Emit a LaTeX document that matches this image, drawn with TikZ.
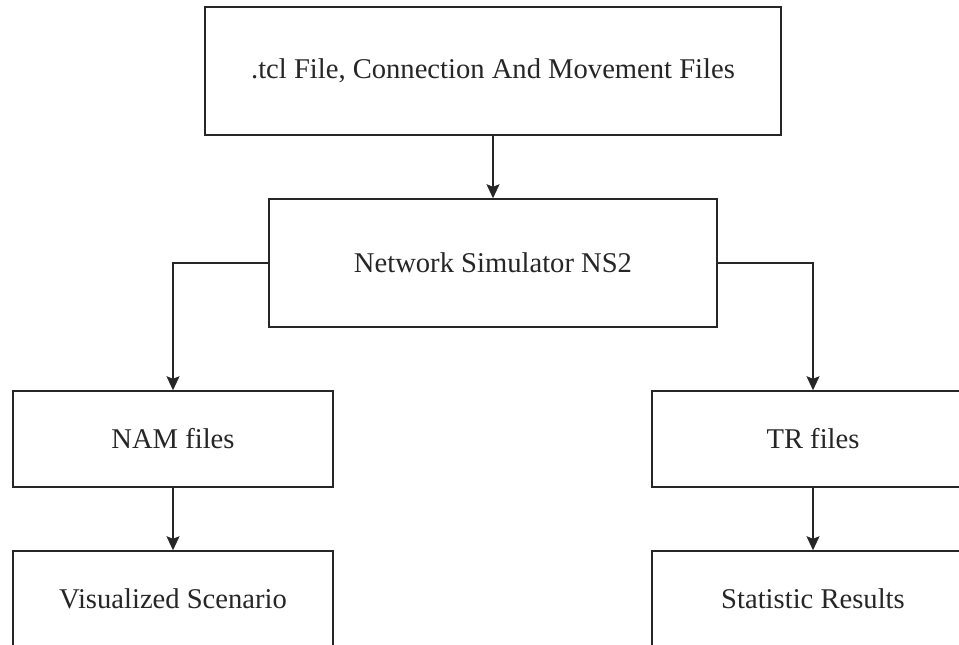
\documentclass[tikz,border=0pt]{standalone}
\usepackage{fontspec}
\setmainfont{Liberation Serif}
\usetikzlibrary{arrows.meta}
\begin{document}
\begin{tikzpicture}[x=1pt,y=-1pt,
  box/.style={draw=black!85, line width=1.5pt, inner sep=0pt, fill=white,
    font=\fontsize{28.6}{33}\selectfont, text=black!85},
  link/.style={draw=black!85, line width=1.5pt,
    -{Stealth[length=14pt,width=13pt,inset=2.5pt]}}]
  \useasboundingbox (0,0) rectangle (959,645);
  \clip (0,0) rectangle (959,645);
  % process boxes
  \node[box, minimum width=576pt, minimum height=128pt] (input) at (493,71) {.tcl File, Connection And Movement Files};
  \node[box, minimum width=448pt, minimum height=128pt] (sim) at (493,263) {Network Simulator NS2};
  \node[box, minimum width=320pt, minimum height=96pt] (nam) at (173,439) {NAM files};
  \node[box, minimum width=322pt, minimum height=96pt] (tr) at (813,439) {TR files};
  \node[box, minimum width=320pt, minimum height=96pt] (vis) at (173,599) {Visualized Scenario};
  \node[box, minimum width=322pt, minimum height=96pt] (stat) at (813,599) {Statistic Results};
  % connectors
  \draw[link] (input) -- (sim);
  \draw[link] (sim.west) -| (nam.north);
  \draw[link] (sim.east) -| (tr.north);
  \draw[link] (nam) -- (vis);
  \draw[link] (tr) -- (stat);
\end{tikzpicture}
\end{document}
